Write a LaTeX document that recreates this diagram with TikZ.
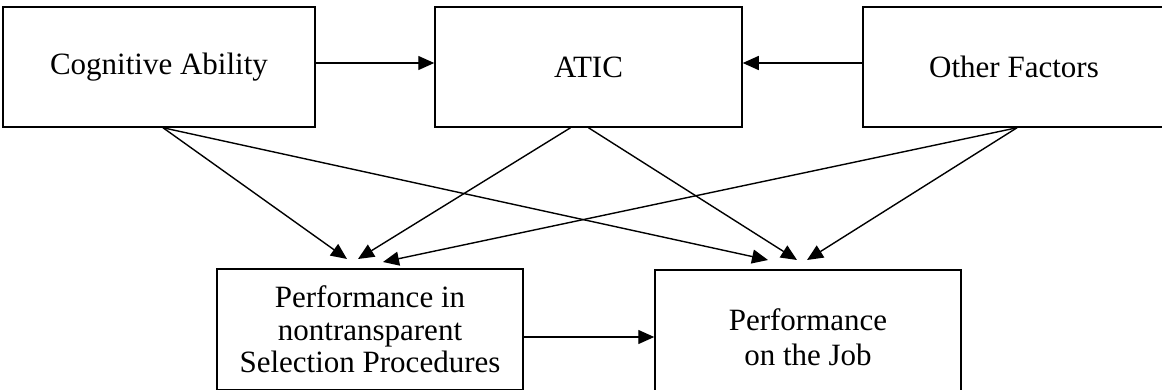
\documentclass[tikz,border=0pt]{standalone}
\usepackage{fontspec}
\setmainfont{Liberation Serif}
\usetikzlibrary{arrows.meta}
\begin{document}
\begin{tikzpicture}[x=1pt,y=-1pt,
  box/.style={draw, line width=1.5pt, inner sep=0pt, align=center,
    font=\fontsize{31}{35}\selectfont},
  arr/.style={line width=1.4pt, -{Triangle[length=16pt,width=14pt]}}]
\useasboundingbox (0,0) rectangle (1162,389);
\node[box, minimum width=312pt, minimum height=120pt] (cog) at (159,67) {Cognitive Ability};
\node[box, minimum width=307pt, minimum height=120pt] (atic) at (588.5,67) {ATIC};
\node[box, minimum width=302pt, minimum height=120pt] (oth) at (1014,67) {Other Factors};
\node[box, minimum width=306pt, minimum height=121pt,
  font=\fontsize{31}{32.5}\selectfont] (pin) at (370,329.5) {Performance in\\nontransparent\\Selection Procedures};
\node[box, minimum width=306pt, minimum height=134pt] (job) at (808,337) {Performance\\on the Job};
\coordinate (t1) at (347,259);
\coordinate (t2) at (358,259);
\coordinate (t3) at (383,262);
\coordinate (u1) at (768,260);
\coordinate (u2) at (797,260);
\coordinate (u3) at (807,260);
\draw[arr] ([yshift=4pt]cog.east) -- ([yshift=4pt]atic.west);
\draw[arr] ([yshift=4pt]oth.west) -- ([yshift=4pt]atic.east);
\draw[arr] ([yshift=-7.5pt]pin.east) -- (job.west);
\draw[arr] ([xshift=4pt]cog.south) -- (t1);
\draw[arr] ([xshift=4pt]cog.south) -- (u1);
\draw[arr] ([xshift=-18pt]atic.south) -- (t2);
\draw[arr] ([xshift=0pt]atic.south) -- (u2);
\draw[arr] ([xshift=3pt]oth.south) -- (t3);
\draw[arr] ([xshift=3pt]oth.south) -- (u3);
\end{tikzpicture}
\end{document}
